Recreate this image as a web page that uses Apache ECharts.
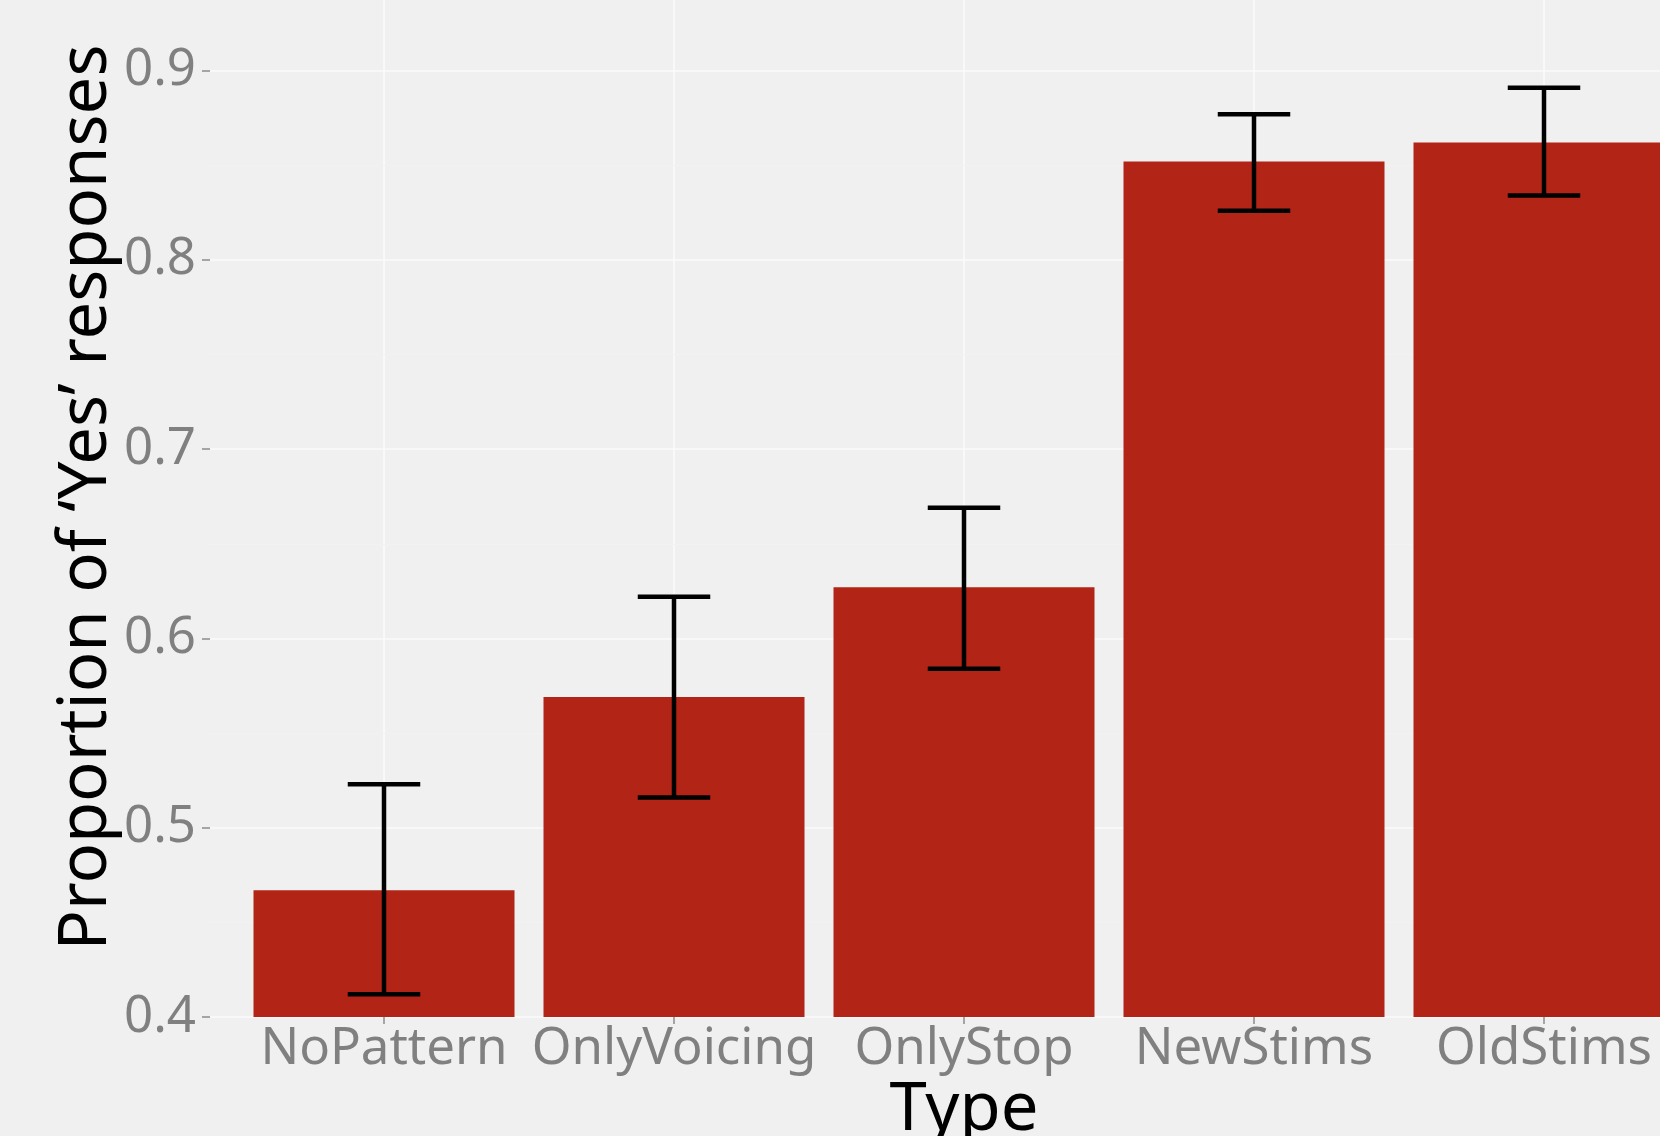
<!DOCTYPE html>
<html>
<head>
<meta charset="utf-8">
<title>Proportion of 'Yes' responses by Type</title>
<script src="https://cdn.jsdelivr.net/npm/echarts@6.0.0/dist/echarts.min.js"></script>
<style>
    html, body { margin: 0; padding: 0; background: #f0f0f0; }
    #main { width: 1660px; height: 1136px; }
</style>
</head>
<body>
<div id="main"></div>
<script>
// data
var types = ['NoPattern', 'OnlyVoicing', 'OnlyStop', 'NewStims', 'OldStims'];
var typePos = [1, 2, 3, 4, 5];
var meanYes = [0.467, 0.569, 0.627, 0.852, 0.862];
var lowerYes = [0.412, 0.516, 0.584, 0.826, 0.834];
var upperYes = [0.523, 0.622, 0.669, 0.877, 0.891];
var yTicks = [0.4, 0.5, 0.6, 0.7, 0.8, 0.9];
var yMinorTicks = [0.45, 0.55, 0.65, 0.75, 0.85];

var FONT = '"Noto Sans", "DejaVu Sans", sans-serif';

/**
 * 误差线: 竖线加上下两个横帽
 */
function renderErrorBar(params, api) {
    var x = api.value(0);
    var lo = api.coord([x, api.value(1)]);
    var hi = api.coord([x, api.value(2)]);
    var half = api.size([0.25, 0])[0] / 2;
    var style = { stroke: '#000000', lineWidth: 4.5, fill: null };
    return {
        type: 'group',
        children: [
            { type: 'line', shape: { x1: lo[0], y1: hi[1], x2: lo[0], y2: lo[1] }, style: style },
            { type: 'line', shape: { x1: lo[0] - half, y1: hi[1], x2: lo[0] + half, y2: hi[1] }, style: style },
            { type: 'line', shape: { x1: lo[0] - half, y1: lo[1], x2: lo[0] + half, y2: lo[1] }, style: style }
        ]
    };
}

function loadChart() {
    var myChart = echarts.init(document.getElementById('main'), null, { renderer: 'canvas' });
    var barData = [];
    var errData = [];
    for (var i = 0; i < types.length; i++) {
        barData.push([typePos[i], meanYes[i]]);
        errData.push([typePos[i], lowerYes[i], upperYes[i]]);
    }
    var option = {
        backgroundColor: '#f0f0f0',
        animation: false,
        textStyle: { fontFamily: FONT },
        grid: {
            left: 210,
            top: 0,
            width: 1508,
            height: 1017,
            containLabel: false,
            outerBoundsMode: 'none'
        },
        xAxis: {
            type: 'value',
            min: 0.4,
            max: 5.6,
            name: 'Type',
            nameLocation: 'middle',
            nameGap: 60,
            nameMoveOverlap: false,
            nameTextStyle: { fontFamily: FONT, fontSize: 67, color: '#000000' },
            axisLine: { show: false },
            axisTick: {
                show: true,
                customValues: typePos,
                length: 7,
                lineStyle: { color: '#8c8c8c', width: 1.5 }
            },
            axisLabel: {
                customValues: typePos,
                margin: 7,
                fontFamily: FONT,
                fontSize: 51,
                color: '#808080',
                formatter: function (v) {
                    return types[Math.round(v) - 1] || '';
                }
            },
            splitLine: { show: true, lineStyle: { color: '#fbfbfb', width: 1.6 } }
        },
        yAxis: {
            type: 'value',
            min: 0.4,
            max: 0.9373,
            interval: 0.1,
            name: "Proportion of \u2018Yes\u2019 responses",
            nameLocation: 'middle',
            nameGap: 90,
            nameMoveOverlap: false,
            nameTextStyle: {
                fontFamily: FONT,
                fontSize: 67,
                color: '#000000',
                padding: [0, 0, 0, 22]
            },
            axisLine: { show: false },
            axisTick: {
                show: true,
                customValues: yTicks,
                length: 8,
                lineStyle: { color: '#8c8c8c', width: 1.5 }
            },
            axisLabel: {
                customValues: yTicks,
                margin: 14,
                fontFamily: FONT,
                fontSize: 51,
                color: '#808080',
                formatter: function (v) {
                    return v.toFixed(1);
                }
            },
            splitLine: { show: true, lineStyle: { color: '#fbfbfb', width: 1.6 } }
        },
        series: [{
            name: 'mean',
            type: 'bar',
            data: barData,
            barWidth: '90%',
            itemStyle: { color: '#b22516' },
            markLine: {
                silent: true,
                symbol: 'none',
                label: { show: false },
                lineStyle: { color: '#f2f2f2', width: 1, type: 'solid' },
                z: 0,
                data: yMinorTicks.map(function (v) { return { yAxis: v }; })
            }
        }, {
            name: 'se',
            type: 'custom',
            renderItem: renderErrorBar,
            encode: { x: 0, y: [1, 2] },
            data: errData,
            z: 10
        }]
    };
    myChart.setOption(option, true);
    window.addEventListener('resize', function () {
        myChart.resize();
    });
}

loadChart();
</script>
</body>
</html>
